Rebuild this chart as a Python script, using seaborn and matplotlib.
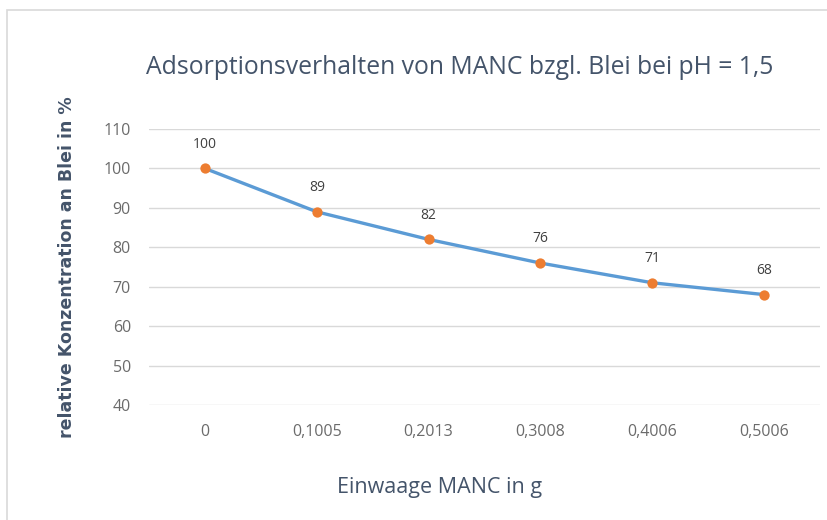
import matplotlib
matplotlib.use("Agg")
import matplotlib.pyplot as plt
from matplotlib.patches import Rectangle
from matplotlib import font_manager
import seaborn as sns
import pandas as pd

# chart data
categories = ["0", "0,1005", "0,2013", "0,3008", "0,4006", "0,5006"]
konzentration = [100, 89, 82, 76, 71, 68]
y_ticks = [40, 50, 60, 70, 80, 90, 100, 110]

sns.set_style("white")
available = {f.name for f in font_manager.fontManager.ttflist}
family = "Liberation Sans Narrow" if "Liberation Sans Narrow" in available else "Open Sans"
plt.rcParams['font.family'] = [family, 'DejaVu Sans']

df = pd.DataFrame({"pos": range(len(categories)), "wert": konzentration})

fig = plt.figure(figsize=(8.27, 5.2), dpi=100)
ax = fig.add_axes([149 / 827, 1 - 405 / 520, (820 - 149) / 827, (405 - 129) / 520])

# light chart border like the Excel frame
fig.patches.append(Rectangle((7 / 827, -0.1), 1.2, 1 - 10 / 520 + 0.1,
                             transform=fig.transFigure, fill=False,
                             edgecolor="#d9d9d9", linewidth=1.2))

sns.lineplot(data=df, x="pos", y="wert", ax=ax, color="#5B9BD5", linewidth=2.4, zorder=2)
sns.scatterplot(data=df, x="pos", y="wert", ax=ax, color="#ED7D31", s=55,
                edgecolor="#ED7D31", linewidth=0, zorder=3)

for i, v in enumerate(konzentration):
    ax.text(i, v + 4.2, f"{v}", ha="center", va="bottom", fontsize=10, color="#404040")

ax.set_xlim(-0.5, 5.5)
ax.set_ylim(40, 110)
ax.set_yticks(y_ticks)
ax.set_xticks(range(len(categories)))
ax.set_xticklabels(categories)
ax.tick_params(axis="both", length=0, labelsize=11.5, colors="#6b6b6b")
ax.tick_params(axis="x", pad=14)
ax.tick_params(axis="y", pad=13)
ax.yaxis.grid(True, color="#d9d9d9", linewidth=1)
ax.xaxis.grid(False)
for s in ax.spines.values():
    s.set_visible(False)

ax.set_xlabel("Einwaage MANC in g", fontsize=15.5, color="#44546A")
ax.xaxis.set_label_coords((440 - 149) / 671, -(488 - 405) / 276, transform=ax.transAxes)
ax.xaxis.label.set_va("center")
ax.set_ylabel("relative Konzentration an Blei in %", fontsize=12.5, color="#44546A",
              fontweight="bold", family="DejaVu Sans")
ax.yaxis.set_label_coords(-0.109, 0.5)
fig.text(460 / 827, 1 - 68 / 520, "Adsorptionsverhalten von MANC bzgl. Blei bei pH = 1,5",
         ha="center", va="center", fontsize=17.8, color="#44546A")

fig.savefig("out.png", dpi=100)
